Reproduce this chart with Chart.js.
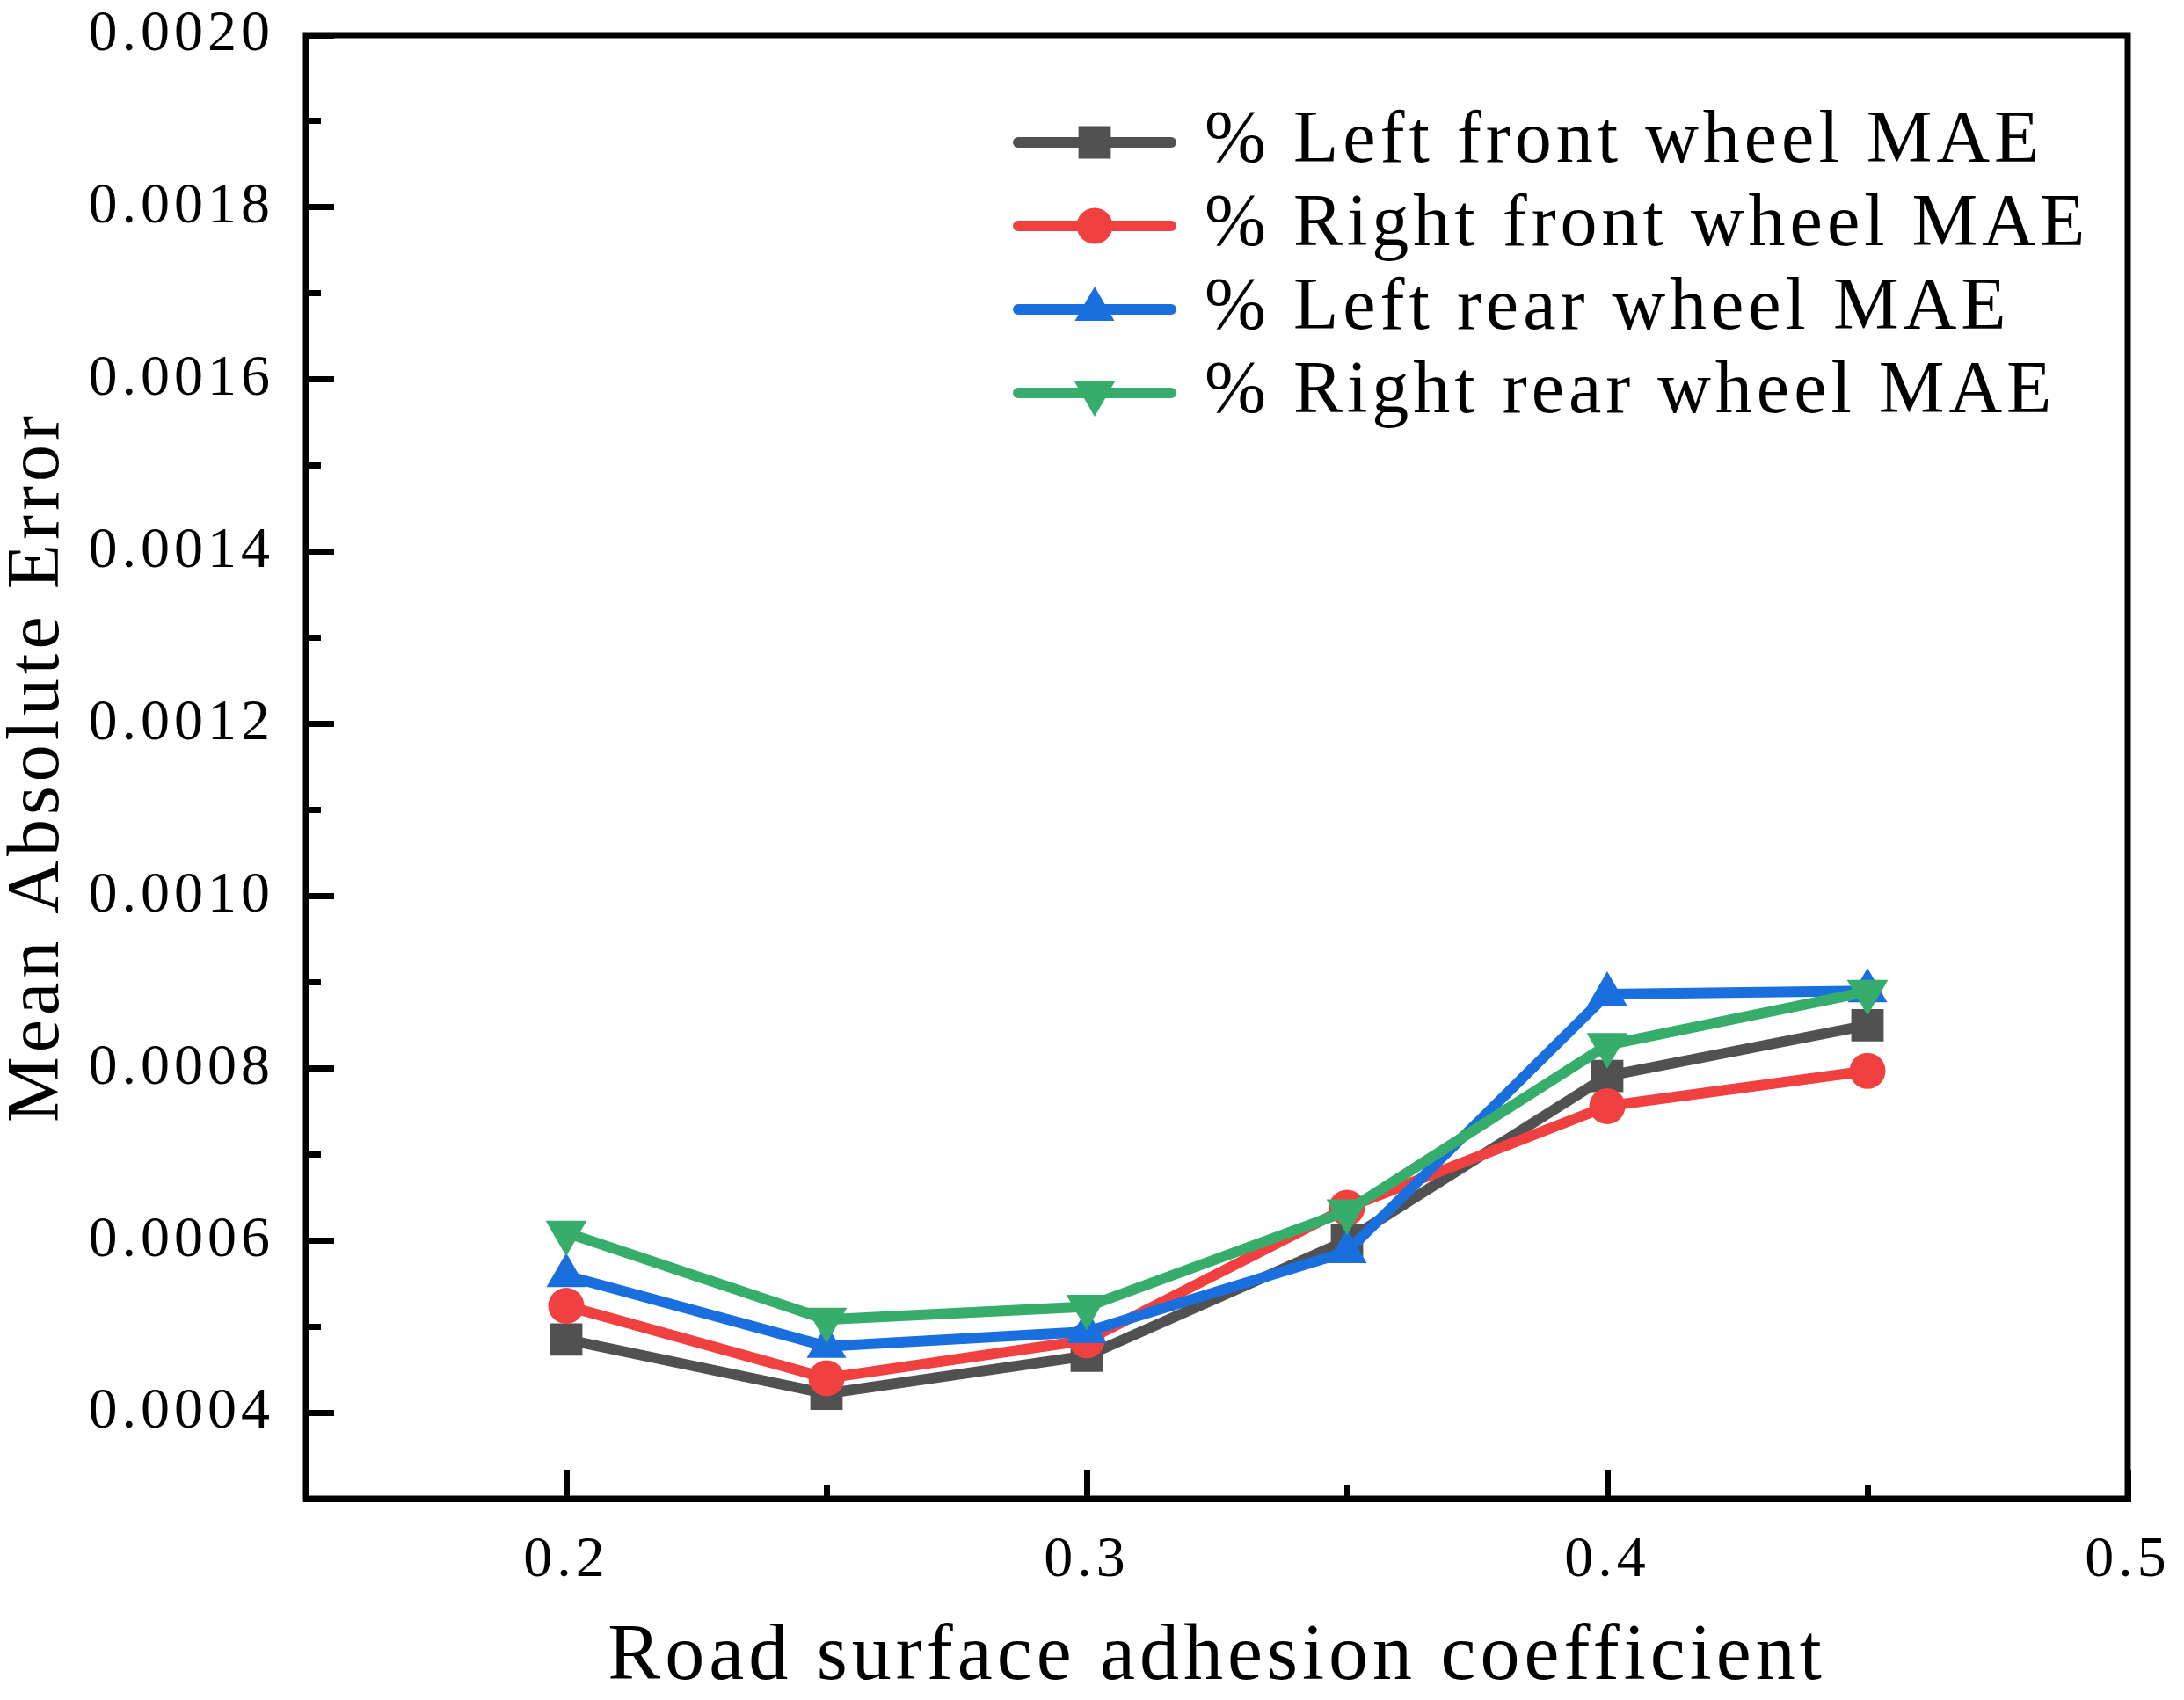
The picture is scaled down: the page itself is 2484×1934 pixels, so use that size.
<!DOCTYPE html>
<html>
<head>
<meta charset="utf-8">
<title>Mean Absolute Error vs road surface adhesion coefficient</title>
<script src="https://cdn.jsdelivr.net/npm/chart.js@4.4.1/dist/chart.umd.min.js"></script>
<style>
    html, body { margin: 0; padding: 0; background: #fff; }
    #wrap { width: 2484px; height: 1934px; }
</style>
</head>
<body>
<div id="wrap"><canvas id="maeChart"></canvas></div>
<script>
// Road surface adhesion coefficient (x values)
const adhesion = [0.2, 0.25, 0.3, 0.35, 0.4, 0.45];

// Mean absolute error of each wheel
const leftFrontMAE  = [0.000485, 0.000422, 0.000466, 0.000600, 0.000791, 0.000850];
const rightFrontMAE = [0.000524, 0.000440, 0.000484, 0.000638, 0.000756, 0.000797];
const leftRearMAE   = [0.000559, 0.000477, 0.000494, 0.000587, 0.000886, 0.000890];
const rightRearMAE  = [0.000609, 0.000508, 0.000523, 0.000634, 0.000827, 0.000889];

const seriesNames = [
    '% Left front wheel MAE',
    '% Right front wheel MAE',
    '% Left rear wheel MAE',
    '% Right rear wheel MAE'
];

// Tick values
const xMajorTicks = [0.2, 0.3, 0.4, 0.5];
const xMinorTicks = [0.25, 0.35, 0.45];
const yMajorTicks = [0.0004, 0.0006, 0.0008, 0.0010, 0.0012, 0.0014, 0.0016, 0.0018, 0.0020];
const yMinorTicks = [0.0005, 0.0007, 0.0009, 0.0011, 0.0013, 0.0015, 0.0017, 0.0019];

// Styling
const seriesColors = ['#515151', '#F14040', '#1A6FDF', '#37AD6B'];
const markers = [
    { style: 'rect', radius: 26, rotation: 0 },
    { style: 'circle', radius: 20.5, rotation: 0 },
    { style: 'triangle', radius: 26, rotation: 0 },
    { style: 'triangle', radius: 27, rotation: 180 }
];
const FONT = "'Liberation Serif', 'DejaVu Serif', serif";
const tickFont = { family: FONT, size: 66 };

const seriesValues = [leftFrontMAE, rightFrontMAE, leftRearMAE, rightRearMAE];

// Legend sample: a short line with the marker in the middle
function makeLegendIcon(i) {
    const c = document.createElement('canvas');
    c.width = 186;
    c.height = 60;
    const g = c.getContext('2d');
    g.strokeStyle = seriesColors[i];
    g.fillStyle = seriesColors[i];
    g.lineWidth = 12;
    g.lineCap = 'round';
    g.beginPath();
    g.moveTo(6, 30);
    g.lineTo(180, 30);
    g.stroke();
    Chart.helpers.drawPoint(g, {
        pointStyle: markers[i].style,
        radius: markers[i].radius,
        rotation: markers[i].rotation,
        borderWidth: 0
    }, 93, 30);
    return c;
}

const datasets = seriesValues.map(function (vals, i) {
    return {
        label: seriesNames[i],
        data: vals.map(function (v, j) { return { x: adhesion[j], y: v }; }),
        borderColor: seriesColors[i],
        backgroundColor: seriesColors[i],
        borderWidth: 12,
        tension: 0,
        pointStyle: markers[i].style,
        pointRadius: markers[i].radius,
        pointRotation: markers[i].rotation,
        pointBackgroundColor: seriesColors[i],
        pointBorderWidth: 0,
        order: seriesValues.length - i
    };
});

// Full frame around the plot, legend placed inside it
const framePlugin = {
    id: 'frame',
    beforeDraw(chart) {
        chart.ctx.letterSpacing = '5px';
    },
    afterLayout(chart) {
        const a = chart.chartArea;
        chart.legend.left = a.left + 803;
        chart.legend.top = a.top + 69;
    },
    afterDraw(chart) {
        const a = chart.chartArea;
        const ctx = chart.ctx;
        ctx.save();
        ctx.strokeStyle = '#000';
        ctx.lineWidth = 7;
        ctx.strokeRect(a.left, a.top, a.right - a.left, a.bottom - a.top);
        ctx.restore();
    }
};

function axisTicks(values) {
    return function (axis) {
        axis.ticks = values.map(function (v) { return { value: v }; });
    };
}

// fixed axis size, no extra room for overhanging labels
function fixSize(w, h) {
    return function (axis) {
        if (w !== null) axis.width = w;
        if (h !== null) axis.height = h;
        axis.paddingTop = 0;
        axis.paddingBottom = 0;
        axis.paddingLeft = 0;
        axis.paddingRight = 0;
    };
}

window.addEventListener('load', function () {
    const icons = seriesNames.map(function (n, i) { return makeLegendIcon(i); });

    new Chart(document.getElementById('maeChart'), {
        type: 'line',
        data: { datasets: datasets },
        plugins: [framePlugin],
        options: {
            responsive: true,
            maintainAspectRatio: false,
            animation: false,
            devicePixelRatio: 1,
            layout: { padding: { left: 0, right: 64, top: 40, bottom: 0 } },
            plugins: {
                tooltip: { enabled: false },
                legend: {
                    position: 'chartArea',
                    align: 'start',
                    padding: 10,
                    labels: {
                        usePointStyle: true,
                        pointStyleWidth: 166,
                        padding: 11,
                        color: '#000',
                        font: { family: FONT, size: 84 },
                        sort: function (a, b) { return a.datasetIndex - b.datasetIndex; },
                        generateLabels: function (chart) {
                            const items = Chart.defaults.plugins.legend.labels.generateLabels(chart);
                            items.forEach(function (it) {
                                it.pointStyle = icons[it.datasetIndex];
                                it.rotation = 0;
                            });
                            return items;
                        }
                    }
                }
            },
            scales: {
                x: {
                    type: 'linear',
                    position: 'bottom',
                    min: 0.15,
                    max: 0.5,
                    afterBuildTicks: axisTicks(xMajorTicks),
                    afterFit: fixSize(null, 229),
                    grid: { drawOnChartArea: false, tickLength: -33, tickWidth: 7, tickColor: '#000' },
                    border: { display: true, width: 7, color: '#000' },
                    ticks: {
                        padding: 64,
                        color: '#000',
                        font: tickFont,
                        autoSkip: false,
                        maxRotation: 0,
                        callback: function (v) { return v.toFixed(1); }
                    },
                    title: {
                        display: true,
                        text: 'Road surface adhesion coefficient',
                        color: '#000',
                        font: { family: FONT, size: 90, lineHeight: 1 },
                        padding: { top: 0, bottom: 3 }
                    }
                },
                xMinor: {
                    type: 'linear',
                    position: 'bottom',
                    weight: -1,
                    min: 0.15,
                    max: 0.5,
                    afterBuildTicks: axisTicks(xMinorTicks),
                    afterFit: fixSize(null, 0),
                    grid: { drawOnChartArea: false, tickLength: -16, tickWidth: 7, tickColor: '#000' },
                    border: { display: false },
                    ticks: { display: false }
                },
                y: {
                    type: 'linear',
                    position: 'left',
                    min: 0.0003,
                    max: 0.0020,
                    afterBuildTicks: axisTicks(yMajorTicks),
                    afterFit: fixSize(348, null),
                    grid: { drawOnChartArea: false, tickLength: -32, tickWidth: 7, tickColor: '#000' },
                    border: { display: true, width: 7, color: '#000' },
                    ticks: {
                        padding: 68,
                        color: '#000',
                        font: tickFont,
                        autoSkip: false,
                        callback: function (v) { return v.toFixed(4); }
                    },
                    title: {
                        display: true,
                        text: 'Mean Absolute Error',
                        color: '#000',
                        font: { family: FONT, size: 84, lineHeight: 1 },
                        padding: { top: 2, bottom: 0 }
                    }
                },
                yMinor: {
                    type: 'linear',
                    position: 'left',
                    weight: -1,
                    min: 0.0003,
                    max: 0.0020,
                    afterBuildTicks: axisTicks(yMinorTicks),
                    afterFit: fixSize(0, null),
                    grid: { drawOnChartArea: false, tickLength: -17, tickWidth: 7, tickColor: '#000' },
                    border: { display: false },
                    ticks: { display: false }
                }
            }
        }
    });
});
</script>
</body>
</html>
